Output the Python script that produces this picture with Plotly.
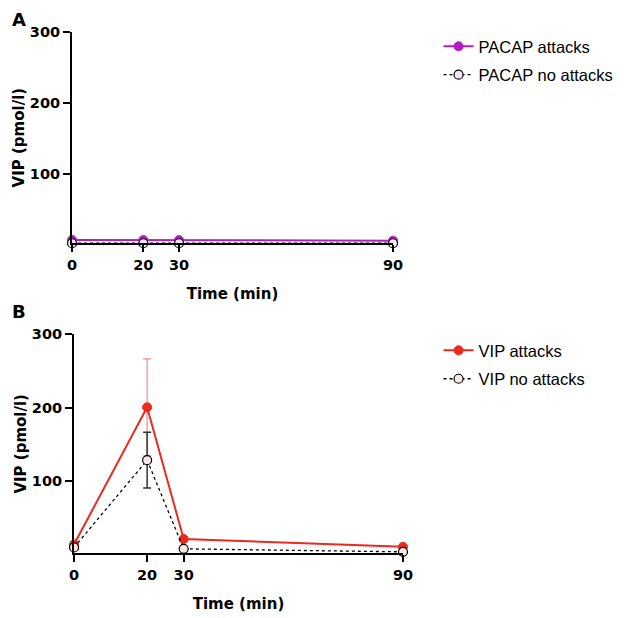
import plotly.graph_objects as go

# sampling times (min)
time_min = [0, 20, 30, 90]

# panel A: PACAP infusion
pacap_attacks = [7.7, 7.5, 7.5, 6.7]
pacap_attacks_err = [0.4, 0.4, 0.4, 0.4]
pacap_no_attacks = [3.0, 3.0, 3.0, 3.0]
pacap_no_attacks_err = [0.2, 0.2, 0.2, 0.2]

# panel B: VIP infusion
vip_attacks = [13.6, 200.5, 21.0, 10.4]
vip_attacks_err = [2.0, 66.0, 3.0, 1.5]
vip_no_attacks = [9.5, 128.5, 7.6, 3.5]
vip_no_attacks_err = [1.5, 38.0, 1.5, 0.8]

x_ticks = [0, 20, 30, 90]
y_ticks = [100, 200, 300]

PURPLE = "#B01EC2"
RED = "#EB2A1F"
BOLD = dict(family="DejaVu Sans, sans-serif", size=14.5, color="black", weight="bold")
LEG = dict(family="Liberation Sans, Arial, sans-serif", size=16.5, color="black")

fig = go.Figure()


def add_pair(xa, ya, leg, y1, e1, y2, e2, name1, name2, col, fill, bar_col):
    fig.add_trace(go.Scatter(
        x=time_min, y=y1, name=name1, mode="lines+markers",
        xaxis=xa, yaxis=ya, legend=leg, legendgroup=name1, cliponaxis=False,
        line=dict(color=col, width=2),
        marker=dict(color=col, size=9, line=dict(color=col, width=1)),
        error_y=dict(type="data", array=e1, color=bar_col, thickness=1.2, width=4),
    ))
    fig.add_trace(go.Scatter(
        x=time_min, y=y2, name=name2, mode="lines+markers",
        xaxis=xa, yaxis=ya, legend=leg, legendgroup=name2, cliponaxis=False,
        line=dict(color="black", width=1.3, dash="dot"),
        marker=dict(color=fill, size=9, line=dict(color="black", width=1.2)),
        error_y=dict(type="data", array=e2, color="#333333", thickness=1.5, width=4),
    ))


add_pair("x", "y", "legend", pacap_attacks, pacap_attacks_err,
         pacap_no_attacks, pacap_no_attacks_err,
         "PACAP attacks", "PACAP no attacks", PURPLE, "#F3E4F6", PURPLE)
add_pair("x2", "y2", "legend2", vip_attacks, vip_attacks_err,
         vip_no_attacks, vip_no_attacks_err,
         "VIP attacks", "VIP no attacks", RED, "#FBE6E6", "rgba(235,42,31,0.55)")

axis_common = dict(
    showline=True, linecolor="black", linewidth=2,
    ticks="outside", ticklen=7, tickwidth=2, tickcolor="black",
    showgrid=False, zeroline=False, tickfont=BOLD, automargin=False,
    title_font=dict(family="DejaVu Sans, sans-serif", size=15, color="black", weight="bold"),
)

fig.update_layout(
    width=624, height=618,
    margin=dict(l=0, r=0, t=0, b=0),
    plot_bgcolor="white", paper_bgcolor="white",
    showlegend=True,
    xaxis=dict(domain=[0.1026, 0.6170], range=[0, 90], tickvals=x_ticks,
               anchor="y", title=dict(text="Time (min)", standoff=17), **axis_common),
    yaxis=dict(domain=[0.6193, 0.9612], range=[3, 300], tickvals=y_ticks,
               anchor="x", title=dict(text="VIP (pmol/l)", standoff=2), **axis_common),
    xaxis2=dict(domain=[0.1058, 0.6330], range=[0, 90], tickvals=x_ticks,
                anchor="y2", title=dict(text="Time (min)", standoff=17), **axis_common),
    yaxis2=dict(domain=[0.1176, 0.4720], range=[1.5, 300], tickvals=y_ticks,
                anchor="x2", title=dict(text="VIP (pmol/l)", standoff=2), **axis_common),
    legend=dict(x=0.69, y=0.966, xanchor="left", yanchor="top", font=LEG,
                bgcolor="rgba(0,0,0,0)", tracegroupgap=4, itemwidth=30),
    legend2=dict(x=0.69, y=0.474, xanchor="left", yanchor="top", font=LEG,
                 bgcolor="rgba(0,0,0,0)", tracegroupgap=4, itemwidth=30),
)

# panel letters (top of the text box kept inside the page)
for letter, px_x, px_y in [("A", 11, 0), ("B", 11, 292)]:
    fig.add_annotation(text=letter, x=px_x / 624, y=1 - px_y / 618,
                       xref="paper", yref="paper", showarrow=False,
                       xanchor="center", yanchor="top", borderpad=0,
                       font=dict(family="DejaVu Sans, sans-serif", size=18,
                                 color="black", weight="bold"))

fig.write_html("out.html")
